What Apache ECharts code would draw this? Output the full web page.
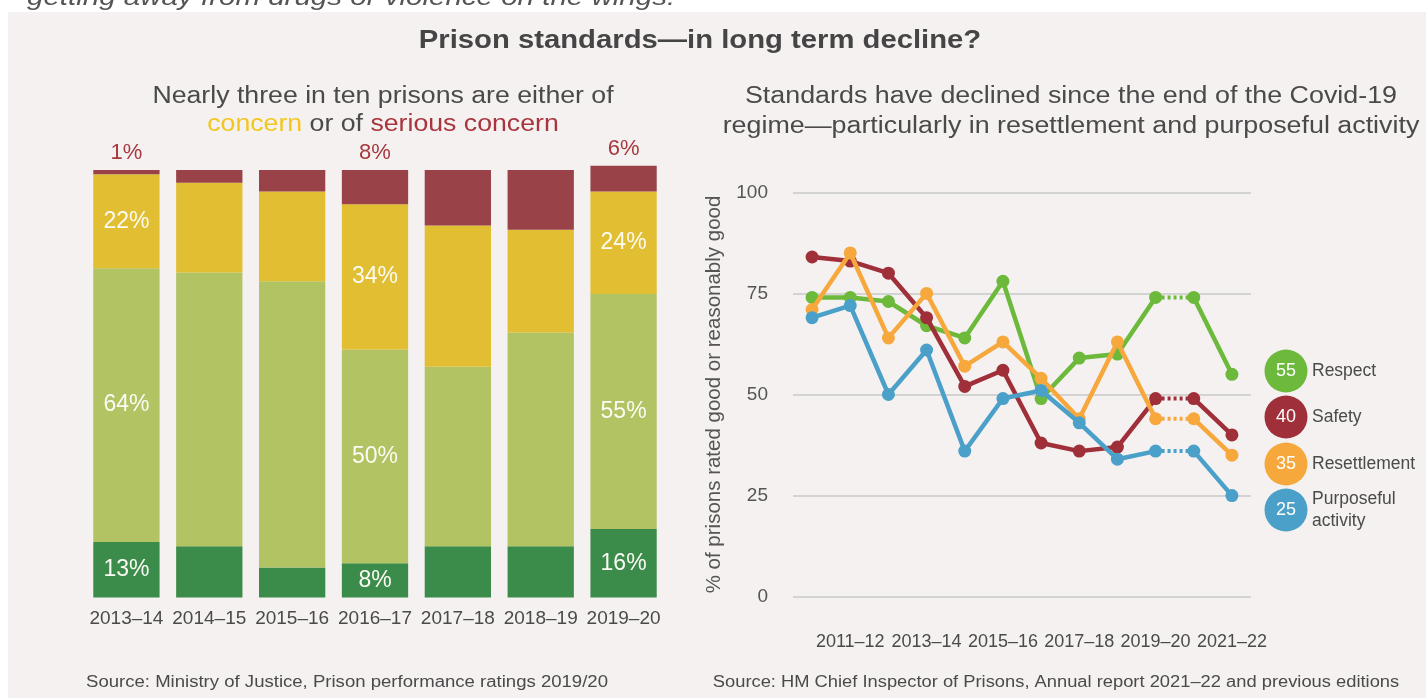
<!DOCTYPE html>
<html>
<head>
<meta charset="utf-8">
<script src="https://cdn.jsdelivr.net/npm/echarts@6/dist/echarts.min.js"></script>
<style>
  html, body { margin: 0; padding: 0; background: #ffffff; overflow: hidden; }
  #panel { position: absolute; left: 8px; top: 12px; width: 1418px; height: 686px; background: #f4f1f0; }
  #chart { position: absolute; left: 0; top: 0; width: 1426px; height: 698px; }
</style>
</head>
<body>
<div id="panel"></div>
<div id="chart"></div>
<script>
// ---- Prison performance ratings (share of prisons, %) ----
const ratingYears = ['2013–14', '2014–15', '2015–16', '2016–17', '2017–18', '2018–19', '2019–20'];
const ratingExceptional = [13, 12, 7, 8, 12, 12, 16];
const ratingAcceptable  = [64, 64, 67, 50, 42, 50, 55];
const ratingConcern     = [22, 21, 21, 34, 33, 24, 24];
const ratingSerious     = [1, 3, 5, 8, 13, 14, 6];
const labelledYears = ['2013–14', '2016–17', '2019–20'];

// ---- Healthy prison tests (% rated good or reasonably good) ----
const testYears = ['2010–11', '2011–12', '2012–13', '2013–14', '2014–15', '2015–16',
                   '2016–17', '2017–18', '2018–19', '2019–20', '2020–21', '2021–22'];
const respect      = [74, 74, 73, 67, 64, 78, 49, 59, 60, 74, 74, 55];
const safety       = [84, 83, 80, 69, 52, 56, 38, 36, 37, 49, 49, 40];
const resettlement = [71, 85, 64, 75, 57, 63, 54, 44, 63, 44, 44, 35];
const purposeful   = [69, 72, 50, 61, 36, 49, 51, 43, 34, 36, 36, 25];
const testNames = ['Respect', 'Safety', 'Resettlement', 'Purposeful\nactivity'];
const yTicks = [0, 25, 50, 75, 100];
// Covid regime years: carried-over values joined by a dotted segment
const covidStart = '2019–20';
const covidEnd = '2020–21';

const FONT = '"Liberation Sans", Arial, Helvetica, sans-serif';
const TEXT = '#4a4a4a';

const barColors = { exceptional: '#3b8b4a', acceptable: '#b1c362', concern: '#e1be32', serious: '#994248' };
const lineColors = ['#6cb93b', '#9f2f39', '#f7a83c', '#4aa0c8'];
const lineSets = [respect, safety, resettlement, purposeful];

function barData(values) {
  return values.map((v, i) => {
    const show = labelledYears.indexOf(ratingYears[i]) >= 0;
    return show ? { value: v, label: { show: true } } : v;
  });
}

function barSeries(name, values, color, opts) {
  return Object.assign({
    name: name,
    type: 'bar',
    xAxisIndex: 0, yAxisIndex: 0,
    stack: 'ratings',
    barCategoryGap: '20%',
    clip: false,
    itemStyle: { color: color },
    label: {
      show: false,
      position: 'inside',
      formatter: '{c}%',
      color: '#fbfbf4',
      fontFamily: FONT,
      fontSize: 23
    },
    emphasis: { disabled: true },
    data: barData(values)
  }, opts || {});
}

const series = [
  barSeries('Exceptional', ratingExceptional, barColors.exceptional),
  barSeries('Acceptable', ratingAcceptable, barColors.acceptable),
  barSeries('Of concern', ratingConcern, barColors.concern),
  barSeries('Serious concern', ratingSerious, barColors.serious, {
    label: {
      show: false, position: 'top', distance: 6, formatter: '{c}%',
      color: '#a8383f', fontFamily: FONT, fontSize: 22
    }
  })
];

const iStart = testYears.indexOf(covidStart);
const iEnd = testYears.indexOf(covidEnd);

lineSets.forEach((vals, k) => {
  const color = lineColors[k];
  const before = vals.map((v, i) => (i <= iStart ? v : null));
  const after = vals.map((v, i) => (i >= iEnd ? v : null));
  const gap = vals.map((v, i) => (i === iStart || i === iEnd ? v : null));
  const base = {
    type: 'line', xAxisIndex: 1, yAxisIndex: 1,
    symbol: 'circle', symbolSize: 13,
    itemStyle: { color: color },
    emphasis: { disabled: true },
    z: 3 + k
  };
  series.push(Object.assign({}, base, {
    name: testNames[k] + ' dotted', showSymbol: false, symbolSize: 0,
    lineStyle: { color: color, width: 4, type: [3, 3] }, data: gap
  }));
  series.push(Object.assign({}, base, {
    name: testNames[k], lineStyle: { color: color, width: 4.5 }, data: before
  }));
  series.push(Object.assign({}, base, {
    name: testNames[k] + ' later', lineStyle: { color: color, width: 4.5 }, data: after
  }));
});

// Key: coloured discs carrying each test's latest value
const keyY = [371, 417, 464, 510];
const keyGraphics = [];
lineSets.forEach((vals, k) => {
  keyGraphics.push({
    type: 'circle', shape: { cx: 1286, cy: keyY[k], r: 21.5 },
    style: { fill: lineColors[k] }, z: 10
  });
  keyGraphics.push({
    type: 'text', z: 11,
    style: { text: String(vals[vals.length - 1]), x: 1286, y: keyY[k], align: 'center', verticalAlign: 'middle',
             font: '18px ' + FONT, fill: '#ffffff' }
  });
  keyGraphics.push({
    type: 'text', z: 11,
    style: { text: testNames[k], x: 1312, y: keyY[k], align: 'left', verticalAlign: 'middle',
             font: '17.5px ' + FONT, fill: TEXT, lineHeight: 22 }
  });
});

// Text block helper: centred (or left) text, widened slightly to suit the layout
function textBlock(x, y, style, scaleX) {
  return {
    type: 'text', x: x, y: y, scaleX: scaleX || 1, scaleY: 1,
    style: Object.assign({ x: 0, y: 0, align: 'center', verticalAlign: 'middle' }, style)
  };
}

const option = {
  animation: false,
  backgroundColor: 'transparent',
  textStyle: { fontFamily: FONT },
  grid: [
    { left: 85, top: 170, width: 580, height: 427.5 },
    { left: 793, top: 192.3, width: 458, height: 404.4 }
  ],
  xAxis: [
    {
      gridIndex: 0, type: 'category', data: ratingYears,
      axisLine: { show: false }, axisTick: { show: false },
      axisLabel: { color: TEXT, fontSize: 19, fontFamily: FONT, margin: 12, interval: 0 }
    },
    {
      gridIndex: 1, type: 'category', data: testYears, boundaryGap: true,
      axisLine: { show: false }, axisTick: { show: false },
      axisLabel: {
        color: TEXT, fontSize: 18, fontFamily: FONT, margin: 36,
        interval: (idx) => idx % 2 === 1
      }
    }
  ],
  yAxis: [
    { gridIndex: 0, type: 'value', min: 0, max: 100, show: false },
    {
      gridIndex: 1, type: 'value', min: yTicks[0], max: yTicks[yTicks.length - 1], interval: 25,
      axisLine: { show: false }, axisTick: { show: false },
      axisLabel: { color: '#555', fontSize: 19, fontFamily: FONT, margin: 25 },
      splitLine: { lineStyle: { color: '#c9c9c9', width: 1.5 } },
      name: '% of prisons rated good or reasonably good',
      nameLocation: 'middle', nameGap: 68, nameRotate: 90,
      nameTextStyle: { color: '#555', fontSize: 20.5, fontFamily: FONT }
    }
  ],
  graphic: [
    textBlock(27, -2, {
      text: 'getting away from drugs or violence on the wings.', align: 'left',
      font: 'italic 24px ' + FONT, fill: '#555'
    }, 1.23),
    textBlock(700, 41, {
      text: 'Prison standards—in long term decline?', font: 'bold 25px ' + FONT, fill: '#454545'
    }, 1.17),
    textBlock(383, 111, {
      text: 'Nearly three in ten prisons are either of\n{c|concern} or of {s|serious concern}',
      fontSize: 23, fontFamily: FONT, fill: TEXT, lineHeight: 28,
      rich: {
        c: { fill: '#f1c71e', fontSize: 23, fontFamily: FONT, lineHeight: 28 },
        s: { fill: '#a8353d', fontSize: 23, fontFamily: FONT, lineHeight: 28 }
      }
    }, 1.16),
    textBlock(1071, 112, {
      text: 'Standards have declined since the end of the Covid-19\nregime—particularly in resettlement and purposeful activity',
      font: '23px ' + FONT, fill: TEXT, lineHeight: 30
    }, 1.167),
    textBlock(347, 683, {
      text: 'Source: Ministry of Justice, Prison performance ratings 2019/20',
      font: '16px ' + FONT, fill: TEXT
    }, 1.16),
    textBlock(1056, 683, {
      text: 'Source: HM Chief Inspector of Prisons, Annual report 2021–22 and previous editions',
      font: '16px ' + FONT, fill: TEXT
    }, 1.145)
  ].concat(keyGraphics),
  series: series
};

const chart = echarts.init(document.getElementById('chart'), null, { renderer: 'canvas' });
chart.setOption(option);
</script>
</body>
</html>
